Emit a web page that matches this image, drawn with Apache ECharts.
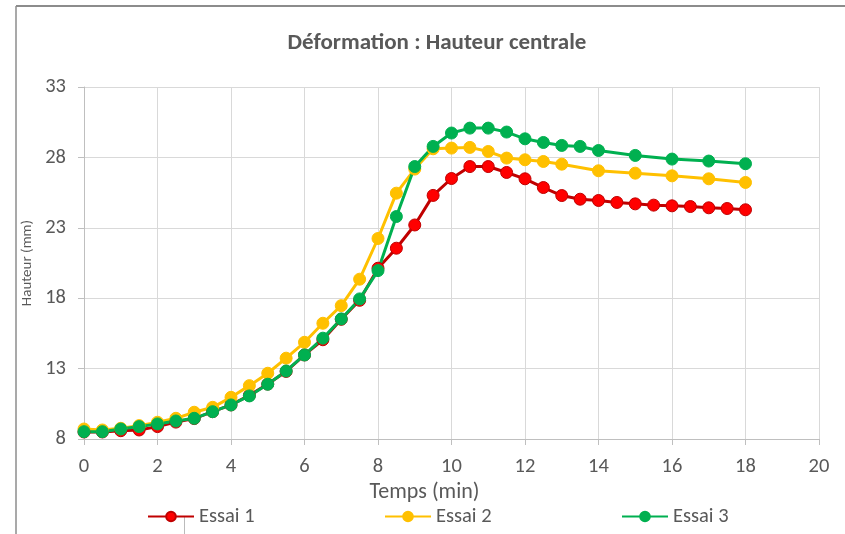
<!DOCTYPE html>
<html>
<head>
<meta charset="utf-8">
<script src="https://cdn.jsdelivr.net/npm/echarts@6/dist/echarts.min.js"></script>
<style>
html,body{margin:0;padding:0;background:#fff;}
#chart{width:845px;height:534px;}
</style>
</head>
<body>
<div id="chart"></div>
<script>
var titleText = 'Déformation : Hauteur centrale';
var xAxisName = 'Temps (min)';
var yAxisName = 'Hauteur (mm)';
var seriesNames = ['Essai 1', 'Essai 2', 'Essai 3'];

var t1 = [0,0.5,1,1.5,2,2.5,3,3.5,4,4.5,5,5.5,6,6.5,7,7.5,8,8.5,9,9.5,10,10.5,11,11.5,12,12.5,13,13.5,14,14.5,15,15.5,16,16.5,17,17.5,18];
var v1 = [8.5,8.5,8.59,8.64,8.88,9.2,9.45,9.94,10.42,11.1,11.9,12.8,13.97,15.05,16.5,17.85,20.13,21.55,23.2,25.3,26.5,27.35,27.35,26.93,26.48,25.86,25.29,25.03,24.94,24.8,24.7,24.61,24.56,24.51,24.42,24.37,24.28];

var t2 = [0,0.5,1,1.5,2,2.5,3,3.5,4,4.5,5,5.5,6,6.5,7,7.5,8,8.5,9,9.5,10,10.5,11,11.5,12,12.5,13,14,15,16,17,18];
var v2 = [8.71,8.64,8.76,8.95,9.19,9.47,9.9,10.25,10.96,11.79,12.67,13.74,14.87,16.22,17.47,19.35,22.24,25.46,27.17,28.61,28.66,28.71,28.42,27.95,27.83,27.71,27.52,27.05,26.88,26.69,26.48,26.22];

var t3 = [0,0.5,1,1.5,2,2.5,3,3.5,4,4.5,5,5.5,6,6.5,7,7.5,8,8.5,9,9.5,10,10.5,11,11.5,12,12.5,13,13.5,14,15,16,17,18];
var v3 = [8.52,8.52,8.71,8.88,9.07,9.28,9.47,9.94,10.42,11.06,11.89,12.83,13.97,15.16,16.53,17.95,19.96,23.8,27.35,28.78,29.73,30.08,30.08,29.8,29.32,29.06,28.85,28.78,28.49,28.14,27.88,27.74,27.55];

function pairs(t, v){ return t.map(function(x,i){ return [x, v[i]]; }); }

var FONT = 'Carlito, "Open Sans", "Noto Sans", sans-serif';
var TXT = '#595959';

var chart = echarts.init(document.getElementById('chart'), null, {renderer:'canvas'});

function mkSeries(name, data, lineColor, fillColor, borderColor){
  return {
    name: name,
    type: 'line',
    data: data,
    symbol: 'circle',
    symbolSize: 12,
    showSymbol: true,
    animation: false,
    lineStyle: {color: lineColor, width: 3},
    itemStyle: {color: fillColor, borderColor: borderColor, borderWidth: 1},
    emphasis: {disabled: true}
  };
}

function mkLegend(name, left){
  return {
    data: [name],
    bottom: 2,
    left: left,
    itemWidth: 46,
    itemHeight: 12,
    textStyle: {fontFamily: FONT, fontSize: 20.5, color: TXT}
  };
}

chart.setOption({
  backgroundColor: '#ffffff',
  animation: false,
  textStyle: {fontFamily: FONT},
  title: {
    text: titleText,
    left: 432, top: 27,
    textAlign: 'center',
    textStyle: {fontFamily: FONT, fontSize: 23, fontWeight: 'bold', color: TXT}
  },
  grid: {left: 84, right: 26, top: 87, bottom: 95, containLabel: false},
  legend: [
    mkLegend(seriesNames[0], 142),
    mkLegend(seriesNames[1], 379),
    mkLegend(seriesNames[2], 616)
  ],
  xAxis: {
    type: 'value',
    min: 0, max: 20, interval: 2,
    name: xAxisName,
    nameLocation: 'middle',
    nameGap: 39,
    nameTextStyle: {fontFamily: FONT, fontSize: 22, color: TXT, padding: [0, 54, 0, 0]},
    axisLine: {show: true, lineStyle: {color: '#bfbfbf', width: 1}},
    axisTick: {show: true, inside: false, length: 6, lineStyle: {color: '#bfbfbf'}},
    axisLabel: {fontFamily: FONT, fontSize: 20.5, color: TXT, margin: 17},
    splitLine: {show: true, lineStyle: {color: '#d9d9d9', width: 1}}
  },
  yAxis: {
    type: 'value',
    min: 8, max: 33, interval: 5,
    name: yAxisName,
    nameLocation: 'middle',
    nameRotate: 90,
    nameGap: 47,
    nameTextStyle: {fontFamily: FONT, fontSize: 15, color: TXT},
    axisLine: {show: true, lineStyle: {color: '#bfbfbf', width: 1}},
    axisTick: {show: true, inside: false, length: 6, lineStyle: {color: '#bfbfbf'}},
    axisLabel: {fontFamily: FONT, fontSize: 20.5, color: TXT, margin: 18},
    splitLine: {show: true, lineStyle: {color: '#d9d9d9', width: 1}}
  },
  graphic: [
    {type: 'line', shape: {x1: 16, y1: 6, x2: 845, y2: 6}, style: {stroke: '#8c8c8c', lineWidth: 2}, silent: true},
    {type: 'line', shape: {x1: 16, y1: 6, x2: 16, y2: 534}, style: {stroke: '#8c8c8c', lineWidth: 1.5}, silent: true},
    {type: 'line', shape: {x1: 184.5, y1: 516, x2: 184.5, y2: 534}, style: {stroke: '#bbbbbb', lineWidth: 1}, silent: true}
  ],
  series: [
    mkSeries(seriesNames[0], pairs(t1, v1), '#C00000', '#FF0000', '#C00000'),
    mkSeries(seriesNames[1], pairs(t2, v2), '#FFC000', '#FFC000', '#FFC000'),
    mkSeries(seriesNames[2], pairs(t3, v3), '#00B050', '#00B050', '#00B050')
  ]
});
</script>
</body>
</html>
